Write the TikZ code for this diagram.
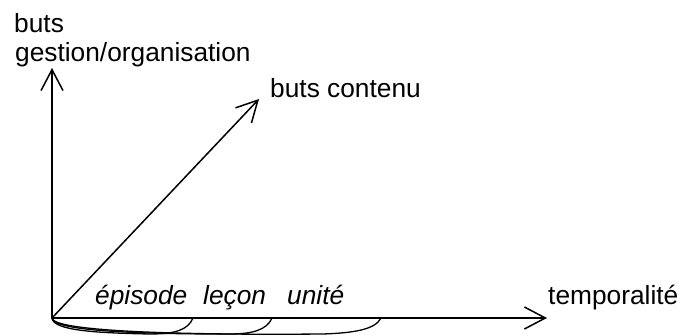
\documentclass[tikz,border=0pt]{standalone}
\usepackage{fontspec}
\setmainfont{Liberation Sans}
\usetikzlibrary{arrows.meta}
\begin{document}
\begin{tikzpicture}[x=1pt,y=-1pt,
  lbl/.style={anchor=base west,inner sep=0pt,font=\fontsize{26.3}{29}\selectfont},
  ilbl/.style={lbl,font=\fontsize{26.3}{29}\selectfont\itshape},
  axis/.style={line width=1.5pt,-{Straight Barb[length=21pt,width=22pt,line width=1.5pt]}},
  span/.style={line width=1.3pt}]
\useasboundingbox (0,0) rectangle (682,336);
\coordinate (O) at (52,318);
\coordinate (vt) at (52,68);
\coordinate (ht) at (547,318);
\coordinate (dt) at (259,99);
\coordinate (e1) at (193,318);
\coordinate (e2) at (272,318);
\coordinate (e3) at (381,318);
\coordinate (m1) at (150,334);
\coordinate (m2) at (230,334);
\coordinate (m3) at (323,334);
\node[lbl] (b1) at (14,33) {buts};
\node[lbl] (b2) at (15,62) {gestion/organisation};
\node[lbl] (bc) at (270,98) {buts contenu};
\node[lbl] (tp) at (548,305) {temporalité};
\node[ilbl] (ep) at (95,305) {épisode};
\node[ilbl] (le) at (203,305) {leçon};
\node[ilbl] (un) at (287,305) {unité};
\draw[axis] (O) -- (vt);
\draw[axis] (O) -- (ht);
\draw[axis] (O) -- (dt);
\draw[span] (O) .. controls (53,331) and (100,333) .. (m1) .. controls (175,334) and (188,330) .. (e1);
\draw[span] (O) .. controls (53,332) and (150,334) .. (m2) .. controls (252,334) and (267,330) .. (e2);
\draw[span] (O) .. controls (53,333) and (210,335) .. (m3) .. controls (352,333) and (375,330) .. (e3);
\end{tikzpicture}
\end{document}
